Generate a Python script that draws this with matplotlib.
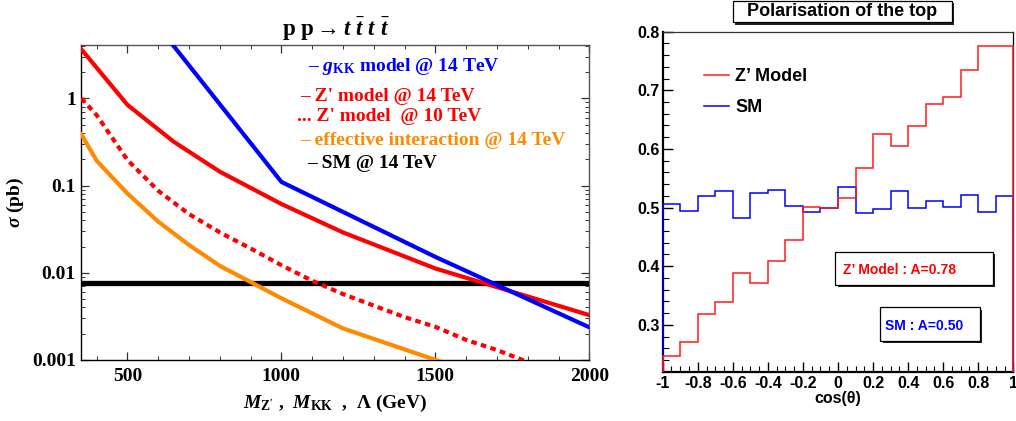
import numpy as np
import matplotlib
matplotlib.use("Agg")
import matplotlib.pyplot as plt
from matplotlib.ticker import LogLocator, FixedLocator, MultipleLocator, NullFormatter, FixedFormatter
from matplotlib.patches import Rectangle

plt.rcParams['mathtext.fontset'] = 'custom'
plt.rcParams['mathtext.rm'] = 'Liberation Serif:bold'
plt.rcParams['mathtext.it'] = 'Liberation Serif:italic:bold'
plt.rcParams['mathtext.bf'] = 'Liberation Serif:bold'

# ---------------- data: left panel (cross sections, pb) ----------------
gkk_mass = [500, 1000, 1500, 2000]
gkk_xsec = [18.5, 0.11, 0.0152, 0.00237]

zp14_mass = [350, 500, 650, 800, 1000, 1200, 1500, 2000]
zp14_xsec = [3.65, 0.84, 0.318, 0.144, 0.0614, 0.029, 0.0112, 0.00327]

zp10_mass = [350, 400, 500, 600, 700, 800, 900, 1000, 1100, 1200, 1300, 1400, 1500, 1600, 1700, 1800]
zp10_xsec = [1.0, 0.64, 0.196, 0.087, 0.047, 0.029, 0.019, 0.0122, 0.0081, 0.0057, 0.0042,
             0.0031, 0.0024, 0.0017, 0.0013, 0.00095]

eff_mass = [350, 400, 500, 600, 700, 800, 1000, 1200, 1520]
eff_xsec = [0.386, 0.192, 0.081, 0.0385, 0.0208, 0.012, 0.0051, 0.0023, 0.00095]

sm_xsec = 0.00755

left_xticks = [500, 1000, 1500, 2000]
left_yticks = [0.001, 0.01, 0.1, 1]
left_yticklabels = ["0.001", "0.01", "0.1", "1"]

# ---------------- data: right panel (polarisation histograms) ----------------
bin_edges = np.round(np.arange(-1.0, 1.0001, 0.1), 2)
zp_hist = [0.246, 0.270, 0.318, 0.339, 0.389, 0.371, 0.409, 0.445, 0.501, 0.500,
           0.517, 0.567, 0.625, 0.605, 0.639, 0.677, 0.688, 0.735, 0.776, 0.775]
sm_hist = [0.506, 0.494, 0.520, 0.528, 0.482, 0.524, 0.530, 0.503, 0.492, 0.500,
           0.535, 0.491, 0.498, 0.528, 0.500, 0.511, 0.501, 0.522, 0.492, 0.519]

W, H = 1016, 421
fig = plt.figure(figsize=(W / 100, H / 100), dpi=100)

def fx(x):
    return x / W

def fy(y):
    return 1 - y / H

# ================= left panel =================
axL = fig.add_axes([fx(81.3), fy(360), fx(589.3) - fx(81.3), fy(45.3) - fy(360)])
axL.set_yscale('log')
axL.set_xlim(350, 2000)
axL.set_ylim(0.001, 4.05)

BLUE = '#0000ff'
RED = '#ff0000'
ORANGE = '#ff8a00'

axL.axhline(sm_xsec, color='black', lw=3.8, solid_capstyle='butt', zorder=2)
axL.plot(eff_mass, eff_xsec, color=ORANGE, lw=3.0, zorder=3)
axL.plot(zp10_mass, zp10_xsec, color=RED, lw=3.0, linestyle=(0, (1.35, 1.05)),
         dash_capstyle='butt', zorder=3)
axL.plot(zp14_mass, zp14_xsec, color=RED, lw=3.0, zorder=4)
axL.plot(gkk_mass, gkk_xsec, color=BLUE, lw=3.0, zorder=4)

axL.xaxis.set_major_locator(FixedLocator(left_xticks))
axL.xaxis.set_minor_locator(MultipleLocator(100))
axL.yaxis.set_major_locator(FixedLocator(left_yticks))
axL.yaxis.set_major_formatter(FixedFormatter(left_yticklabels))
axL.yaxis.set_minor_locator(LogLocator(base=10, subs=np.arange(2, 10), numticks=20))
axL.yaxis.set_minor_formatter(NullFormatter())
axL.tick_params(which='both', direction='in', top=True, right=True, color='#333333')
axL.tick_params(which='major', length=6, width=0.9)
axL.tick_params(which='minor', length=3, width=0.7)
axL.tick_params(axis='x', pad=6)
axL.tick_params(axis='y', pad=4)
for lab in axL.get_xticklabels() + axL.get_yticklabels():
    lab.set_fontfamily('Liberation Serif')
    lab.set_fontweight('bold')
    lab.set_fontsize(14)
for s in axL.spines.values():
    s.set_color('#555555')
    s.set_linewidth(1.0)
axL.spines['left'].set_color('black')
axL.spines['bottom'].set_color('black')

serif = dict(family='Liberation Serif', weight='bold')
fig.text(fx(336), fy(29), r'$\mathrm{p\ p} \rightarrow t\ \bar{t}\ t\ \bar{t}$',
         ha='center', va='center', fontsize=16.5, **serif)
fig.text(fx(15), fy(202), r'$\sigma$ (pb)', rotation=90, ha='center', va='center',
         fontsize=14, **serif)
fig.text(fx(335), fy(403), r"$M_{\mathrm{Z'}}$ ,  $M_{\mathrm{KK}}$  ,  $\mathrm{\Lambda}$ (GeV)",
         ha='center', va='center', fontsize=14, **serif)

leg_items = [
    (308, 66.7, r'– $g_{\mathrm{KK}}$ model @ 14 TeV', BLUE),
    (300, 96.7, "– Z' model @ 14 TeV", RED),
    (297, 116.7, "... Z' model  @ 10 TeV", RED),
    (300, 140.7, "– effective interaction @ 14 TeV", ORANGE),
    (307, 163.3, "– SM @ 14 TeV", 'black'),
]
for x, y, t, c in leg_items:
    fig.text(fx(x), fy(y), t, ha='left', va='center', fontsize=14, color=c, **serif)

# ================= right panel =================
axR = fig.add_axes([fx(662.7), fy(371.7), fx(1013.3) - fx(662.7), fy(31.7) - fy(371.7)])
axR.set_xlim(-1, 1)
axR.set_ylim(0.22, 0.8)
axR.stairs(sm_hist, bin_edges, baseline=0.22, color='#0000ff', lw=1.1, zorder=3, clip_on=False)
axR.stairs(zp_hist, bin_edges, baseline=0.22, color='#ff1a1a', lw=1.1, zorder=4, clip_on=False)

axR.xaxis.set_minor_locator(MultipleLocator(0.05))
axR.yaxis.set_minor_locator(MultipleLocator(0.02))
axR.set_xticks(np.round(np.arange(-1, 1.001, 0.2), 1))
axR.set_xticklabels(['-1', '-0.8', '-0.6', '-0.4', '-0.2', '0', '0.2', '0.4', '0.6', '0.8', '1'])
axR.set_yticks([0.3, 0.4, 0.5, 0.6, 0.7, 0.8])
axR.set_yticklabels(['0.3', '0.4', '0.5', '0.6', '0.7', '0.8'])
axR.tick_params(which='both', direction='in', top=False, right=False, color='black')
axR.tick_params(which='major', length=7.5, width=1.0)
axR.tick_params(which='minor', length=4, width=0.8)
axR.tick_params(axis='x', pad=3)
axR.tick_params(axis='y', pad=2)
for lab in axR.get_xticklabels() + axR.get_yticklabels():
    lab.set_fontfamily('Liberation Sans')
    lab.set_fontweight('bold')
    lab.set_fontsize(11.5)
axR.spines['left'].set_linewidth(1.6)
axR.spines['bottom'].set_linewidth(1.6)
axR.spines['top'].set_linewidth(0.9)
axR.spines['right'].set_linewidth(0.9)
axR.spines['top'].set_color('#333333')

sans = dict(family='Liberation Sans', weight='bold')
fig.text(fx(838), fy(398.5), 'cos(θ)', ha='center', va='center', fontsize=11.5, **sans)

def shadow_box(x0, y0, x1, y1):
    fig.patches.append(Rectangle((fx(x0 + 2.5), fy(y1 + 2.5)), fx(x1) - fx(x0), fy(y0) - fy(y1),
                                 transform=fig.transFigure, facecolor='#222222', edgecolor='none',
                                 zorder=5))
    fig.patches.append(Rectangle((fx(x0), fy(y1)), fx(x1) - fx(x0), fy(y0) - fy(y1),
                                 transform=fig.transFigure, facecolor='white', edgecolor='black',
                                 lw=0.9, zorder=6))

shadow_box(732.7, 0.8, 951.5, 22.0)
fig.text(fx(842), fy(12.0), 'Polarisation of the top', ha='center', va='center', fontsize=13,
         zorder=7, **sans)

shadow_box(835, 251.7, 992.5, 284.8)
fig.text(fx(843), fy(269.5), "Z’ Model : A=0.78", ha='left', va='center', fontsize=10,
         color='#ff0000', zorder=7, **sans)
shadow_box(880, 307.3, 980, 340.8)
fig.text(fx(885), fy(326.5), "SM : A=0.50", ha='left', va='center', fontsize=10,
         color='#0000ff', zorder=7, **sans)

for yl, label, c in [(75.0, "Z’ Model", '#ff1a1a'), (105.7, "SM", '#0000ff')]:
    fig.add_artist(plt.Line2D([fx(704), fx(729.3)], [fy(yl), fy(yl)], color=c, lw=1.1,
                              transform=fig.transFigure))
    fig.text(fx(735), fy(yl + 1.5), label, ha='left', va='center', fontsize=13, **sans)

fig.savefig('out.png', dpi=100)
